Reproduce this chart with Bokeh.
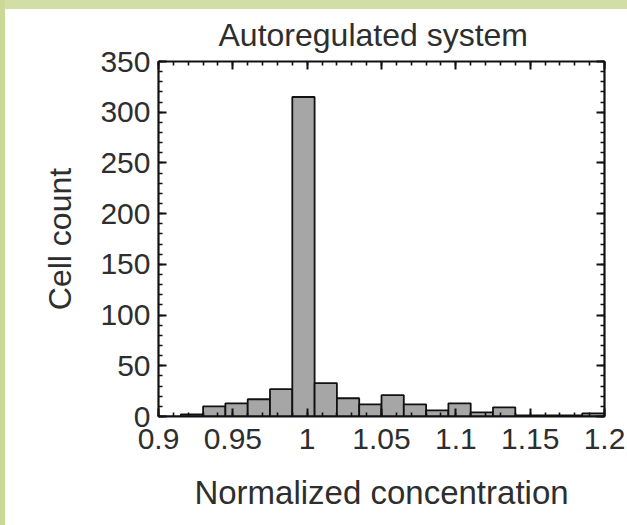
from bokeh.plotting import figure
from bokeh.models import (LinearAxis, FixedTicker, CustomJSTickFormatter, Range1d, Title)
from bokeh.embed import file_html
from bokeh.resources import INLINE

# ---- data ----
bin_left = [0.900, 0.915, 0.930, 0.945, 0.960, 0.975, 0.990, 1.005, 1.020, 1.035,
            1.050, 1.065, 1.080, 1.095, 1.110, 1.125, 1.140, 1.155, 1.170, 1.185]
bin_width = 0.015
counts = [0, 2, 10, 13, 17, 27, 315, 33, 18, 12,
          21, 12, 6, 13, 4, 9, 1, 1, 1, 3]
x_ticks = [0.9, 0.95, 1.0, 1.05, 1.1, 1.15, 1.2]
x_tick_labels = ["0.9", "0.95", "1", "1.05", "1.1", "1.15", "1.2"]
x_minor = [round(0.9 + 0.01 * i, 2) for i in range(31)]
y_ticks = [0, 50, 100, 150, 200, 250, 300, 350]
y_tick_labels = ["0", "50", "100", "150", "200", "250", "300", "350"]
y_minor = list(range(0, 351, 10))
title_text = "Autoregulated system"
x_label = "Normalized concentration"
y_label = "Cell count"

FONT = "Liberation Sans"
TXT = "#2e2e2e"

p = figure(width=630, height=530, output_backend="svg", toolbar_location=None,
           x_range=Range1d(0.9, 1.2), y_range=Range1d(0, 350),
           min_border_left=153, min_border_right=31, min_border_top=50, min_border_bottom=123,
           x_axis_location=None, y_axis_location=None)
p.grid.visible = False
p.outline_line_color = None
p.background_fill_color = "white"
p.border_fill_color = "white"

p.title = Title(text=title_text, text_font=FONT, text_font_size="32px", text_font_style="normal",
                text_color=TXT, align="left", offset=60, standoff=14, vertical_align="top")

lefts = bin_left
rights = [b + bin_width for b in bin_left]
p.quad(left=lefts, right=rights, bottom=0, top=counts,
       fill_color="#a6a6a6", line_color="#111111", line_width=1.8)

def make_fmt(tv, tl):
    return CustomJSTickFormatter(args=dict(tv=tv, tl=tl), code="""
        for (let i = 0; i < tv.length; i++) { if (Math.abs(tv[i] - tick) < 1e-9) return tl[i]; }
        return '';
    """)

blank = CustomJSTickFormatter(code="return '';")

def style(ax, tv, minor, labels=None):
    ax.ticker = FixedTicker(ticks=tv, minor_ticks=minor)
    ax.axis_line_color = "#111111"
    ax.axis_line_width = 2.2
    ax.major_tick_line_color = "#111111"
    ax.minor_tick_line_color = "#111111"
    ax.major_tick_line_width = 2
    ax.minor_tick_line_width = 1.6
    ax.major_tick_in = 8
    ax.major_tick_out = 0
    ax.minor_tick_in = 4
    ax.minor_tick_out = 0
    ax.major_label_text_font = FONT
    ax.major_label_text_color = TXT
    if labels is None:
        ax.formatter = blank
        ax.major_label_text_font_size = "1px"
        ax.major_label_standoff = 0
    else:
        ax.formatter = make_fmt(tv, labels)
        ax.major_label_text_font_size = "30px"

xb = LinearAxis(axis_label=x_label)
style(xb, x_ticks, x_minor, x_tick_labels)
xb.major_label_standoff = 12
xb.axis_label_text_font = FONT
xb.axis_label_text_font_size = "33px"
xb.axis_label_text_font_style = "normal"
xb.axis_label_text_color = TXT
xb.axis_label_standoff = 22
p.add_layout(xb, "below")

yl = LinearAxis(axis_label=y_label)
style(yl, y_ticks, y_minor, y_tick_labels)
yl.major_label_standoff = 8
yl.axis_label_text_font = FONT
yl.axis_label_text_font_size = "32px"
yl.axis_label_text_font_style = "normal"
yl.axis_label_text_color = TXT
yl.axis_label_standoff = 19
p.add_layout(yl, "left")

xt = LinearAxis()
style(xt, x_ticks, x_minor)
p.add_layout(xt, "above")

yr = LinearAxis()
style(yr, y_ticks, y_minor)
p.add_layout(yr, "right")

html = file_html(p, INLINE)
css = ("<style>html, body { overflow: hidden !important; background: #ffffff !important; } "
       "body { padding: 9px 0 0 5px !important; margin: 0 !important; }</style>")
strips = ('<div style="position:fixed;left:0;top:0;width:100%;height:9px;background:#d3dea6;z-index:10"></div>'
          '<div style="position:fixed;left:0;top:0;width:5px;height:100%;background:#cbd996;z-index:10"></div>')
html = html.replace("</head>", css + "</head>", 1)
html = html.replace("</body>", strips + "</body>", 1)
open("out.html", "w").write(html)
